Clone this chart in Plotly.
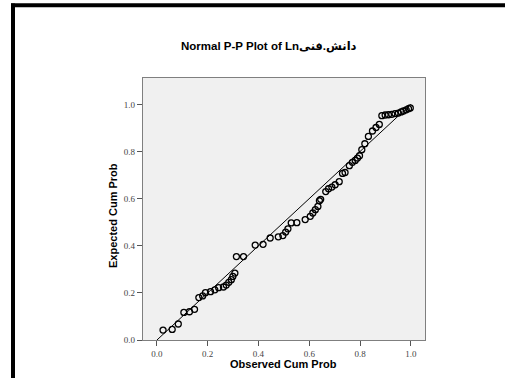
import plotly.graph_objects as go

# Observed vs expected cumulative probabilities
observed_cum_prob = [
    0.024, 0.060, 0.084, 0.106, 0.128, 0.148, 0.165, 0.180, 0.191, 0.211,
    0.228, 0.243, 0.262, 0.273, 0.283, 0.293, 0.299, 0.307, 0.313, 0.341,
    0.387, 0.418, 0.446, 0.478, 0.496, 0.507, 0.516, 0.529, 0.551, 0.584,
    0.604, 0.614, 0.624, 0.634, 0.640, 0.645, 0.665, 0.676, 0.689, 0.702,
    0.718, 0.731, 0.741, 0.758, 0.770, 0.781, 0.790, 0.798, 0.807, 0.819,
    0.833, 0.849, 0.863, 0.876, 0.886, 0.899, 0.912, 0.925, 0.938, 0.951,
    0.962, 0.971, 0.982, 0.991, 0.998,
]
expected_cum_prob = [
    0.042, 0.045, 0.068, 0.117, 0.120, 0.130, 0.180, 0.187, 0.201, 0.205,
    0.213, 0.222, 0.225, 0.233, 0.245, 0.256, 0.270, 0.284, 0.354, 0.354,
    0.403, 0.406, 0.433, 0.438, 0.443, 0.458, 0.472, 0.497, 0.498, 0.511,
    0.525, 0.539, 0.553, 0.567, 0.591, 0.597, 0.630, 0.642, 0.649, 0.659,
    0.672, 0.707, 0.711, 0.740, 0.754, 0.762, 0.772, 0.782, 0.808, 0.833,
    0.864, 0.887, 0.902, 0.915, 0.952, 0.955, 0.956, 0.958, 0.961, 0.963,
    0.968, 0.972, 0.977, 0.982, 0.985,
]
reference_line = [0.0, 1.0]
tick_values = [0.0, 0.2, 0.4, 0.6, 0.8, 1.0]
tick_labels = ["0.0", "0.2", "0.4", "0.6", "0.8", "1.0"]

title_text = "Normal P-P Plot of Lnدانش.فنی"
x_title = "Observed Cum Prob"
y_title = "Expected Cum Prob"

W, H = 505, 378
L, R, T, B = 143, 80, 78, 38
PW, PH = W - L - R, H - T - B


def px(xp):
    return (xp - L) / PW


def py(yp):
    return (H - B - yp) / PH


fig = go.Figure()
fig.add_trace(go.Scatter(
    x=reference_line, y=reference_line, mode="lines",
    line=dict(color="black", width=1), hoverinfo="skip", showlegend=False,
))
fig.add_trace(go.Scatter(
    x=observed_cum_prob, y=expected_cum_prob, mode="markers",
    marker=dict(symbol="circle-open", size=6, color="black",
                line=dict(color="black", width=1.3)),
    showlegend=False,
))

axis_common = dict(
    tickmode="array", tickvals=tick_values, ticktext=tick_labels,
    ticks="outside", ticklen=5, tickwidth=1, tickcolor="#555555",
    showgrid=False, zeroline=False,
    showline=True, mirror=True, linecolor="#7f7f7f", linewidth=1.2,
    tickfont=dict(family="Liberation Serif, DejaVu Serif, serif", size=9, color="#444444"),
)

fig.update_layout(
    width=W, height=H,
    margin=dict(l=L, r=R, t=T, b=B, pad=0),
    paper_bgcolor="white", plot_bgcolor="#f0f0f0",
    xaxis=dict(range=[-0.055, 1.056], **axis_common),
    yaxis=dict(range=[0.0, 1.112], **axis_common),
    font=dict(family="Liberation Sans, Arial, sans-serif"),
)

annotations = [
    dict(text="<b>" + title_text + "</b>", x=px(269), y=py(47),
         font=dict(size=11.5, color="black", family="Liberation Sans, DejaVu Sans, sans-serif")),
    dict(text="<b>" + x_title + "</b>", x=px(283.5), y=py(364),
         font=dict(size=11, color="black", family="Liberation Sans, Arial, sans-serif")),
    dict(text="<b>" + y_title + "</b>", x=px(113), y=py(216), textangle=-90,
         font=dict(size=11, color="black", family="Liberation Sans, Arial, sans-serif")),
]
for a in annotations:
    a.update(xref="paper", yref="paper", showarrow=False,
             xanchor="center", yanchor="middle")
fig.update_layout(annotations=annotations)

# Outer black frame (left and top edges)
fig.add_shape(type="line", xref="paper", yref="paper",
              x0=px(13), x1=px(13), y0=py(3.5), y1=py(H + 5),
              line=dict(color="black", width=4))
fig.add_shape(type="line", xref="paper", yref="paper",
              x0=px(11), x1=px(W + 5), y0=py(5.3), y1=py(5.3),
              line=dict(color="black", width=4))

fig.write_html(
    "out.html",
    config={"displayModeBar": False},
    post_script="document.body.style.margin='0';document.body.style.overflow='hidden';",
)
